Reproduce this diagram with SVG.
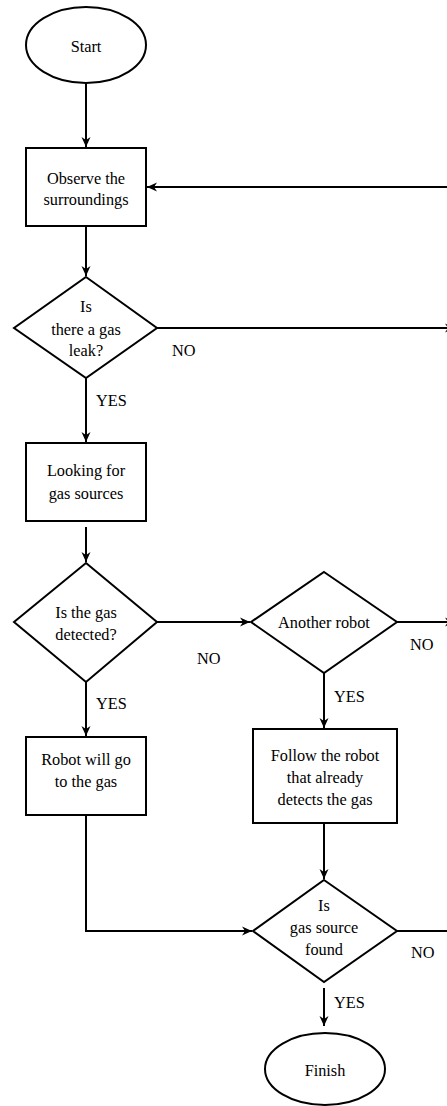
<svg xmlns="http://www.w3.org/2000/svg" width="447" height="1106" viewBox="0 0 447 1106" font-family="'Liberation Serif', 'Times New Roman', 'DejaVu Serif', serif" font-size="16.3">
<style>
.s{fill:#fff;stroke:#000;stroke-width:2}
.c{fill:none;stroke:#000;stroke-width:2}
.m{text-anchor:middle}
</style>
<defs>
<marker id="a" markerUnits="userSpaceOnUse" markerWidth="11" markerHeight="10" refX="10" refY="5" orient="auto">
<path d="M0,0.5 L10,5 L0,9.5 L3,5 z" fill="#000"/>
</marker>
</defs>
<rect width="447" height="1106" fill="#fff"/>
<g id="connectors">
<path class="c" d="M86,83 V147" marker-end="url(#a)"/>
<path class="c" d="M447,187 H147" marker-end="url(#a)"/>
<path class="c" d="M86,226 V276" marker-end="url(#a)"/>
<path class="c" d="M157,328 H455" marker-end="url(#a)"/>
<path class="c" d="M86,378 V442" marker-end="url(#a)"/>
<path class="c" d="M86,527 V562" marker-end="url(#a)"/>
<path class="c" d="M157,622 H250" marker-end="url(#a)"/>
<path class="c" d="M397,622 H455" marker-end="url(#a)"/>
<path class="c" d="M86,682 V736" marker-end="url(#a)"/>
<path class="c" d="M324,673 V728" marker-end="url(#a)"/>
<path class="c" d="M324,823 V879" marker-end="url(#a)"/>
<path class="c" d="M86,815 V931 H252" marker-end="url(#a)"/>
<path class="c" d="M397,931 H447"/>
<path class="c" d="M324,988 V1026" marker-end="url(#a)"/>
<text x="172" y="356">NO</text>
<text x="96" y="406">YES</text>
<text x="197" y="664">NO</text>
<text x="96" y="709">YES</text>
<text x="410" y="650">NO</text>
<text x="334" y="702">YES</text>
<text x="411" y="958">NO</text>
<text x="334" y="1008">YES</text>
</g>
<g id="start">
<ellipse class="s" cx="86" cy="45" rx="60" ry="38"/>
<text class="m" x="86" y="52">Start</text>
</g>
<g id="observe">
<rect class="s" x="26" y="148" width="120" height="78"/>
<text class="m" x="86" y="184">Observe the</text>
<text class="m" x="86" y="205">surroundings</text>
</g>
<g id="leak">
<polygon class="s" points="86,277 157,328 86,378 14,328"/>
<text class="m" x="86" y="312">Is</text>
<text class="m" x="86" y="335">there a gas</text>
<text class="m" x="86" y="356">leak?</text>
</g>
<g id="looking">
<rect class="s" x="26" y="443" width="120" height="78"/>
<text class="m" x="86" y="476">Looking for</text>
<text class="m" x="86" y="499">gas sources</text>
</g>
<g id="detected">
<polygon class="s" points="86,563 157,622 86,682 14,622"/>
<text class="m" x="86" y="618">Is the gas</text>
<text class="m" x="86" y="640">detected?</text>
</g>
<g id="another">
<polygon class="s" points="324,572 397,622 324,673 251,622"/>
<text class="m" x="324" y="628">Another robot</text>
</g>
<g id="goto">
<rect class="s" x="26" y="737" width="120" height="78"/>
<text class="m" x="86" y="765">Robot will go</text>
<text class="m" x="86" y="787">to the gas</text>
</g>
<g id="follow">
<rect class="s" x="253" y="729" width="144" height="94"/>
<text class="m" x="325" y="761">Follow the robot</text>
<text class="m" x="325" y="783">that already</text>
<text class="m" x="325" y="805">detects the gas</text>
</g>
<g id="found">
<polygon class="s" points="324,880 397,931 324,982 253,931"/>
<text class="m" x="324" y="911">Is</text>
<text class="m" x="324" y="933">gas source</text>
<text class="m" x="324" y="955">found</text>
</g>
<g id="finish">
<ellipse class="s" cx="325" cy="1069" rx="60" ry="36"/>
<text class="m" x="325" y="1076">Finish</text>
</g>
</svg>
